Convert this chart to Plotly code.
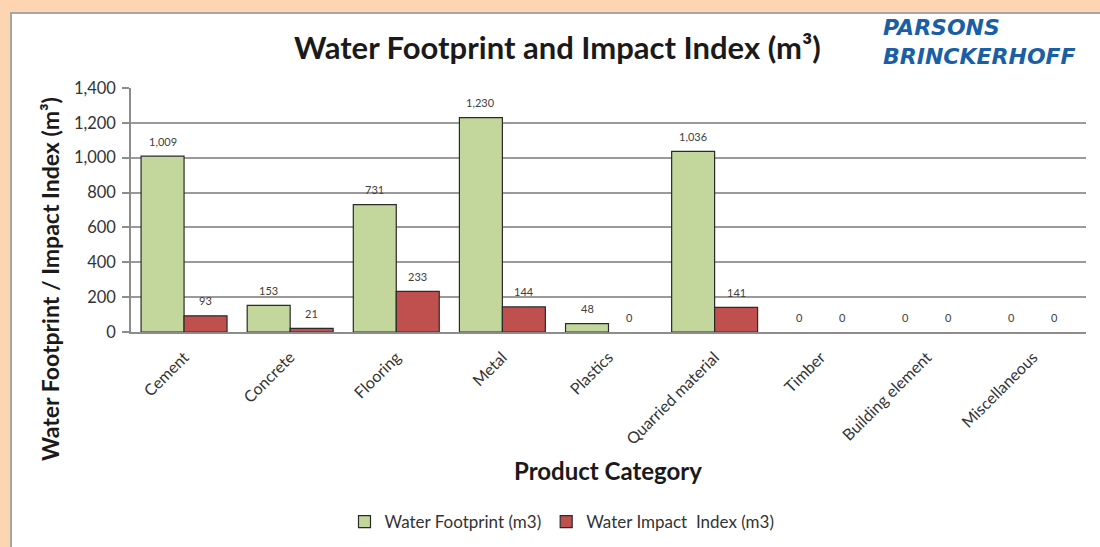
import plotly.graph_objects as go

categories = ["Cement", "Concrete", "Flooring", "Metal", "Plastics",
              "Quarried material", "Timber", "Building element", "Miscellaneous"]
water_footprint = [1009, 153, 731, 1230, 48, 1036, 0, 0, 0]
water_impact = [93, 21, 233, 144, 0, 141, 0, 0, 0]
y_ticks = [0, 200, 400, 600, 800, 1000, 1200, 1400]

FONT = "Lato"
W, H = 1100, 547
L, R, T, B = 131, 14, 88, 215
PW, PH = W - L - R, H - T - B
BARGAP = 0.19


def px_x(px):
    return (px - L) / PW


def px_y(py):
    return (H - B - py) / PH


def edge_widths(values):
    return [1.2 if v else 0 for v in values]


fig = go.Figure()
fig.add_trace(go.Bar(
    x=categories, y=water_footprint, name="Water Footprint (m3)",
    marker=dict(color="#C3D69B",
                line=dict(color="#2b2b2b", width=edge_widths(water_footprint))),
))
fig.add_trace(go.Bar(
    x=categories, y=water_impact, name="Water Impact  Index (m3)",
    marker=dict(color="#C0504D",
                line=dict(color="#2b2b2b", width=edge_widths(water_impact))),
))

half = (1 - BARGAP) / 4
annotations = []
for series, sign in ((water_footprint, -1), (water_impact, 1)):
    for i, v in enumerate(series):
        annotations.append(dict(
            x=i + sign * half, y=v, xref="x", yref="y",
            xanchor="center", yanchor="middle",
            text=f"{v:,}", showarrow=False, yshift=15,
            font=dict(family=FONT, size=11, color="#404040"),
        ))

annotations += [
    dict(x=px_x(557), y=px_y(47), xref="paper", yref="paper",
         xanchor="center", yanchor="middle",
         text="<b>Water Footprint and Impact Index (m³)</b>", showarrow=False,
         font=dict(family=FONT, size=31, color="#1a1a1a")),
    dict(x=px_x(882), y=px_y(42), xref="paper", yref="paper",
         xanchor="left", yanchor="middle", align="left", borderpad=0,
         text="<b><i>PARSONS<br>BRINCKERHOFF</i></b>", showarrow=False,
         font=dict(family="DejaVu Sans", size=22, color="#1a5ea6")),
    dict(x=px_x(50), y=px_y(279), xref="paper", yref="paper", textangle=-90,
         xanchor="center", yanchor="middle",
         text="<b>Water Footprint / Impact Index (m³)</b>", showarrow=False,
         font=dict(family=FONT, size=23, color="#1a1a1a")),
    dict(x=px_x(608), y=px_y(470), xref="paper", yref="paper",
         xanchor="center", yanchor="middle",
         text="<b>Product Category</b>", showarrow=False,
         font=dict(family=FONT, size=24, color="#1a1a1a")),
]

shapes = [
    dict(type="rect", xref="paper", yref="paper", layer="below",
         x0=px_x(11), x1=px_x(1105), y0=px_y(552), y1=px_y(13),
         fillcolor="white", line=dict(color="#a6a6a6", width=2)),
]

fig.update_layout(
    width=W, height=H,
    margin=dict(l=L, r=R, t=T, b=B, autoexpand=False),
    paper_bgcolor="#FDD5B1", plot_bgcolor="white",
    barmode="group", bargap=BARGAP, bargroupgap=0,
    showlegend=True,
    legend=dict(orientation="h", x=px_x(562), y=px_y(522), xanchor="center",
                yanchor="middle", font=dict(family=FONT, size=17, color="#333333"),
                itemwidth=30, bgcolor="rgba(0,0,0,0)"),
    annotations=annotations, shapes=shapes,
    font=dict(family=FONT),
)
fig.update_xaxes(
    tickangle=-45, tickfont=dict(family=FONT, size=16, color="#333333"),
    showline=True, linecolor="#8c8c8c", linewidth=1.5, showgrid=False,
    automargin=False, ticklabelstandoff=8,
)
fig.update_yaxes(
    range=[0, 1400], tickvals=y_ticks, tickformat=",",
    tickfont=dict(family=FONT, size=16.5, color="#333333"),
    showline=True, linecolor="#8c8c8c", linewidth=1.5,
    ticks="outside", ticklen=7, tickcolor="#8c8c8c", tickwidth=1.5,
    showgrid=True, gridcolor="#9a9a9a", gridwidth=1.5, zeroline=False,
    automargin=False, ticklabelstandoff=3,
)

fig.write_html(
    "out.html",
    config={"displayModeBar": False},
    post_script="document.body.style.margin='0';document.body.style.overflow='hidden';",
)
